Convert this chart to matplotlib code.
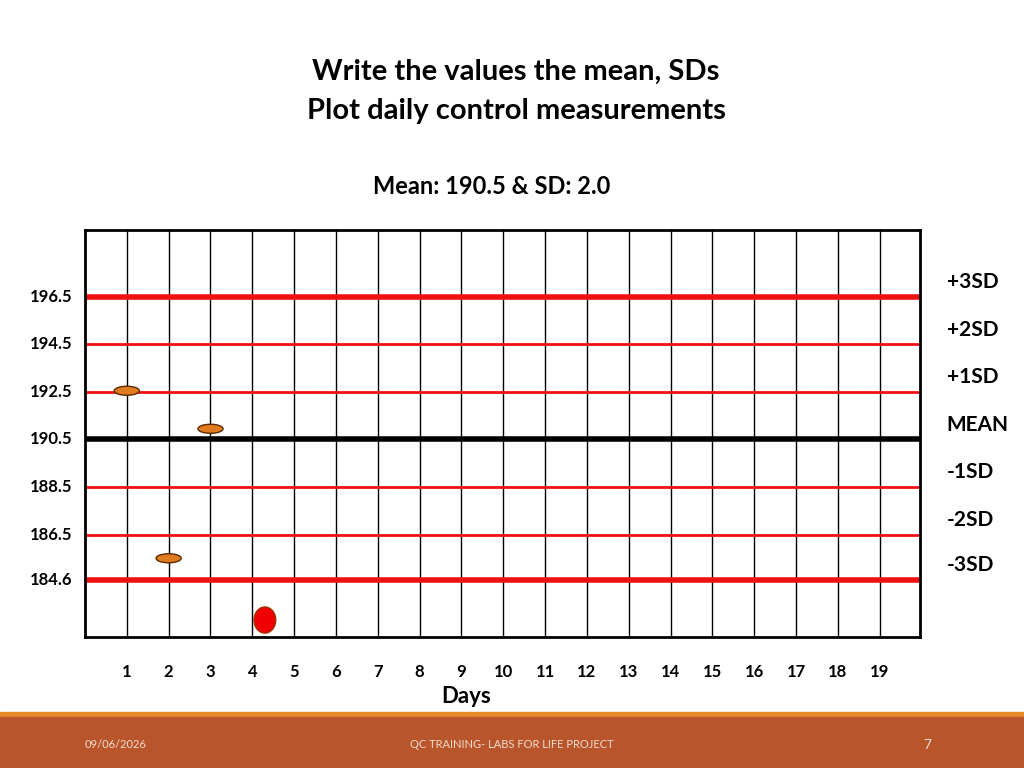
import matplotlib
matplotlib.use("Agg")
import matplotlib.pyplot as plt
from matplotlib.patches import Ellipse, Rectangle

# control levels
levels = [196.5, 194.5, 192.5, 190.5, 188.5, 186.5, 184.6]
level_names = ["+3SD", "+2SD", "+1SD", "MEAN", "-1SD", "-2SD", "-3SD"]
days = list(range(1, 20))

# daily measurements
meas_day = [1, 3, 2]
meas_val = [192.55, 190.95, 185.5]
out_day = [4.3]
out_val = [182.9]

fig = plt.figure(figsize=(10.24, 7.68), dpi=100)
fig.patch.set_facecolor("white")

fig.text(0.504, 0.907, "Write the values the mean, SDs", ha="center", va="center",
         fontsize=21, fontweight="bold", family="Lato")
fig.text(0.504, 0.855, "Plot daily control measurements", ha="center", va="center",
         fontsize=21, fontweight="bold", family="Lato")
fig.text(0.48, 0.757, "Mean: 190.5 & SD: 2.0", ha="center", va="center",
         fontsize=17, fontweight="bold", family="Lato")

ax = fig.add_axes([0.083, 0.171, 0.815, 0.529])
ax.set_xlim(0, 19.95)
ax.set_ylim(182.2, 199.3)
for d in days:
    ax.axvline(d, color="black", lw=1)
for lv in levels:
    if lv == 190.5:
        ax.axhline(lv, color="black", lw=4)
    elif lv in (196.5, 184.6):
        ax.axhline(lv, color="#f01010", lw=4)
    else:
        ax.axhline(lv, color="#f01010", lw=2)
for sp in ax.spines.values():
    sp.set_linewidth(2)
ax.set_xticks([])
ax.set_yticks([])

for d, v in zip(meas_day, meas_val):
    ax.add_patch(Ellipse((d, v), 0.6, 0.38, facecolor="#e07b20", edgecolor="#5a2a00", lw=1, zorder=5))
for d, v in zip(out_day, out_val):
    ax.add_patch(Ellipse((d, v), 0.52, 1.1, facecolor="#f00000", edgecolor="#a03000", lw=1, zorder=5))

for lv in levels:
    ax.text(-0.3, lv, f"{lv}", ha="right", va="center", fontsize=12,
            fontweight="bold", family="Lato", clip_on=False)
for lv, nm in zip(levels, level_names):
    ax.text(20.6, lv + 0.2, nm, ha="left", va="bottom", fontsize=15,
            fontweight="bold", family="Lato", clip_on=False)
for d in days:
    ax.text(d, 180.7, str(d), ha="center", va="center", fontsize=12,
            fontweight="bold", family="Lato", clip_on=False)
ax.text(9.1, 179.7, "Days", ha="center", va="center", fontsize=16,
        fontweight="bold", family="Lato", clip_on=False)

# footer band
fig.patches.append(Rectangle((0, 0.066), 1, 0.007, transform=fig.transFigure,
                             color="#e8892a", zorder=0))
fig.patches.append(Rectangle((0, 0), 1, 0.067, transform=fig.transFigure,
                             color="#b9552b", zorder=0))
fig.text(0.083, 0.03, "09/06/2026", color="#f3dcd0", fontsize=8, va="center", family="Lato")
fig.text(0.5, 0.03, "QC TRAINING- LABS FOR LIFE PROJECT", color="#f3dcd0", fontsize=8,
         ha="center", va="center", family="Lato")
fig.text(0.906, 0.03, "7", color="#f3dcd0", fontsize=10, ha="center", va="center", family="Lato")

fig.savefig("out.png", dpi=100)
